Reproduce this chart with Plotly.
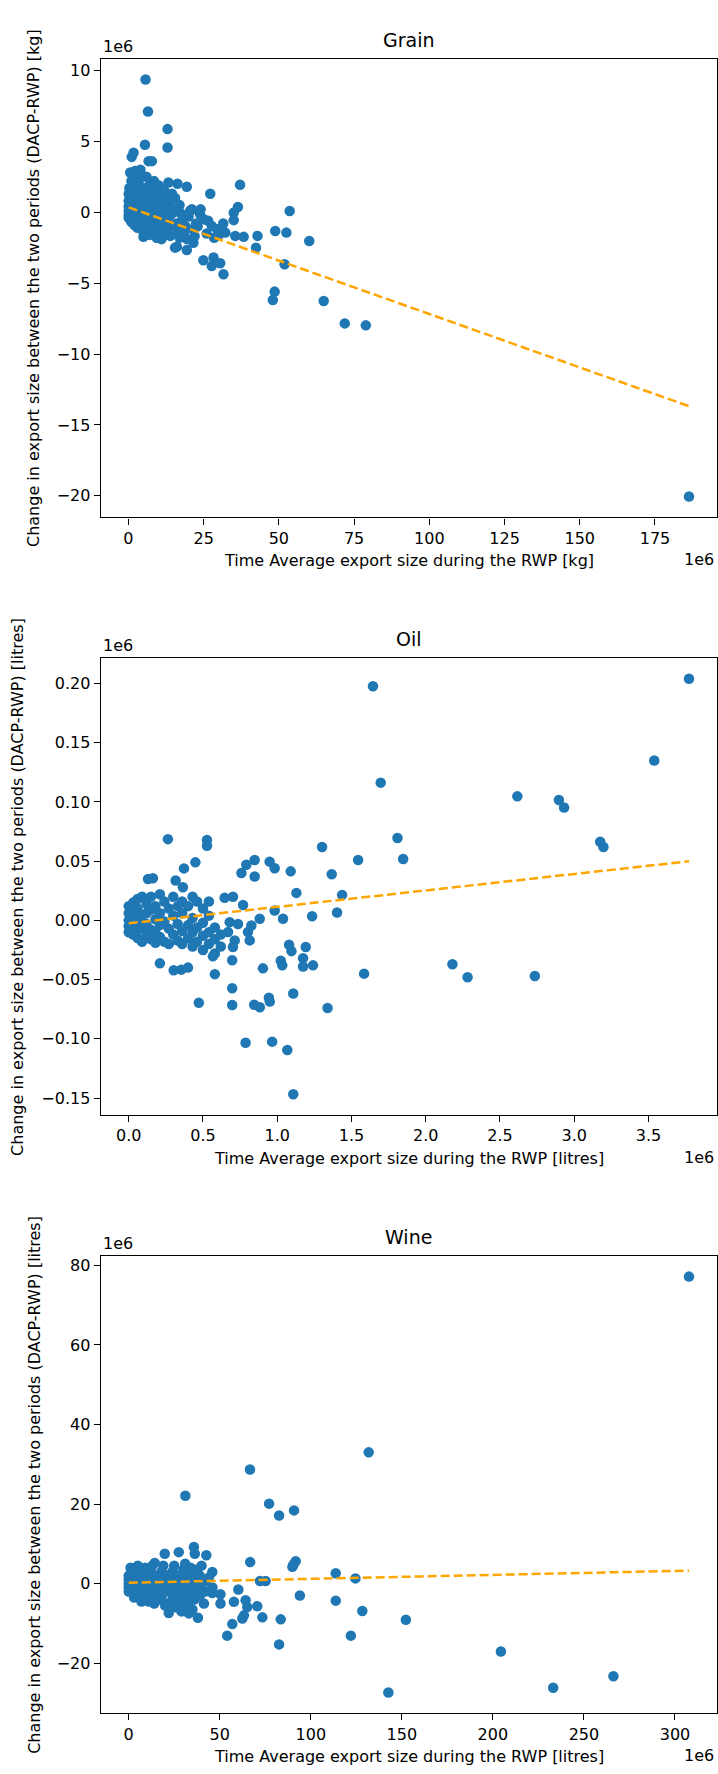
import plotly.graph_objects as go

# ---------------- data (values in units of 1e6) ----------------
grain_pts = [
    (5.7, 9.36), (6.5, 7.1), (13.0, 5.86), (13.0, 4.56), (5.5, 4.75), (1.7, 4.2), (1.1, 3.9),
    (6.7, 3.6), (7.8, 3.6), (0.6, 2.8), (2.2, 2.9), (4.0, 3.0), (13.3, 2.1), (16.3, 2.0),
    (19.4, 1.8), (27.2, 1.3), (37.1, 1.93), (36.4, 0.37), (35.0, -0.03), (35.0, -0.56),
    (53.6, 0.09), (48.8, -1.32), (52.5, -1.44), (60.1, -2.03), (42.9, -1.67), (42.4, -2.5),
    (51.9, -3.67), (48.6, -5.6), (48.0, -6.19), (64.9, -6.26), (71.9, -7.84), (78.9, -7.98),
    (186.3, -20.05),
    (24.9, -3.39), (28.3, -3.2), (27.7, -3.79), (30.5, -3.6), (31.6, -4.38), (16.1, -2.43),
    (19.4, -2.66), (21.6, -2.15), (5.0, -1.74), (10.5, -1.79), (13.9, -1.67), (17.2, -0.03),
    (21.1, 0.21), (23.8, -0.14), (27.7, -0.97), (32.2, -1.44), (35.5, -1.67), (38.3, -1.74),
    (12.2, 0.92), (13.9, 0.32), (26.0, -1.5), (29.5, -1.2), (22.5, -0.8), (25.0, -0.5),
    (19.0, -1.0), (20.5, 0.1), (18.5, -1.5), (15.5, -2.5), (9.4, -1.8), (15.0, 0.0),
    (16.0, -0.8), (17.0, -1.8),
    (15.5, 1.0), (17.0, 0.5), (18.0, -0.5), (20.0, -0.3), (21.5, -1.2), (23.0, -1.0),
    (24.0, 0.2), (26.5, -0.6), (28.5, -1.8), (30.0, -1.6), (31.5, -0.8), (16.5, -1.3),
    (19.5, -1.9), (22.0, -1.7), (2.5, 2.0), (3.5, 2.3), (1.0, 2.2), (0.3, 1.7), (12.0, 1.5),
    (14.5, 1.3), (10.0, 1.9), (8.5, 2.2),
    (0.1, 1.3), (0.1, 0.8), (0.1, 0.4), (0.1, 0.1), (0.1, -0.2), (0.1, -0.4),
    (0.5, 1.0), (0.5, 0.6), (0.5, 0.2), (0.5, -0.1), (0.5, -0.5),
    (1.0, 1.5), (1.0, 0.3), (1.0, -0.3), (1.0, -0.7),
    (1.5, 0.9), (1.5, 0.0), (1.5, -0.6), (1.5, 2.7),
    (2.0, 1.2), (2.0, 0.5), (2.0, -0.2), (2.0, -0.9),
    (3.0, 1.8), (3.0, 0.8), (3.0, 0.2), (3.0, -0.5), (3.0, -1.1),
    (4.0, 2.4), (4.0, 1.3), (4.0, 0.4), (4.0, -0.3), (4.0, -1.0),
    (5.0, 1.7), (5.0, 0.9), (5.0, 0.0), (5.0, -0.7), (5.0, -1.4),
    (6.0, 2.5), (6.0, 1.2), (6.0, 0.3), (6.0, -0.5), (6.0, -1.2),
    (7.0, 1.9), (7.0, 0.7), (7.0, -0.2), (7.0, -1.0), (7.0, -1.6),
    (8.0, 1.3), (8.0, 0.4), (8.0, -0.6), (8.0, -1.3),
    (9.0, 1.6), (9.0, 0.8), (9.0, -0.1), (9.0, -0.9), (9.0, -1.5),
    (10.0, 1.1), (10.0, 0.2), (10.0, -0.5), (10.0, -1.3),
    (11.0, 1.6), (11.0, 0.5), (11.0, -0.3), (11.0, -1.1), (11.0, -1.9),
    (12.0, 0.0), (12.0, -0.8), (12.0, -1.5),
    (13.0, 0.5), (13.0, -0.4), (13.0, -1.2),
    (14.0, 0.8), (14.0, -0.2), (14.0, -1.0),
]

oil_pts = [
    (1.645, 0.1977), (3.773, 0.204), (3.539, 0.135), (2.897, 0.1017), (2.932, 0.0953),
    (3.175, 0.0664), (3.197, 0.0619), (2.617, 0.1047), (1.697, 0.1163), (1.81, 0.0695),
    (1.302, 0.062), (1.545, 0.051), (1.848, 0.0518), (1.367, 0.039), (1.437, 0.0215),
    (1.403, 0.0066), (1.235, 0.0035), (1.192, -0.0225), (1.174, -0.032), (1.174, -0.039),
    (1.241, -0.038), (1.585, -0.045), (2.18, -0.037), (2.282, -0.048), (2.735, -0.047),
    (0.787, -0.1033), (0.966, -0.1024), (1.068, -0.1095), (1.108, -0.1468), (0.472, -0.0695),
    (0.697, -0.0573), (0.697, -0.0714), (0.845, -0.0712), (0.883, -0.0734), (0.944, -0.0654),
    (0.95, -0.0686), (1.108, -0.0618), (1.339, -0.074), (0.904, -0.0405), (0.58, -0.0454),
    (0.697, -0.0337), (1.024, -0.034), (1.034, -0.038), (1.08, -0.0206), (1.096, -0.026),
    (0.21, -0.0363), (0.303, -0.0421), (0.354, -0.0416), (0.399, -0.0399), (0.567, -0.0304),
    (0.264, 0.0686), (0.527, 0.0678), (0.527, 0.063), (0.449, 0.049), (0.372, 0.0439),
    (0.13, 0.035), (0.163, 0.0355), (0.316, 0.0336), (0.365, 0.028), (0.759, 0.040),
    (0.792, 0.047), (0.848, 0.051), (0.848, 0.037), (0.949, 0.0496), (0.983, 0.044),
    (1.091, 0.0414), (1.129, 0.0232), (1.039, 0.0013), (0.882, 0.0013), (0.826, -0.0043),
    (0.803, -0.0099), (0.815, -0.0169), (0.983, 0.0083), (0.646, 0.019), (0.702, 0.020),
    (0.77, 0.013), (0.68, -0.0015), (0.736, -0.003), (0.669, -0.0099), (0.714, -0.0169),
    (0.702, -0.0225),
    (0.0, 0.012), (0.0, 0.006), (0.0, 0.0), (0.0, -0.005), (0.0, -0.01),
    (0.03, 0.015), (0.03, 0.008), (0.03, 0.002), (0.03, -0.004), (0.03, -0.012),
    (0.06, 0.018), (0.06, 0.01), (0.06, -0.002), (0.06, -0.008), (0.06, -0.015),
    (0.09, 0.02), (0.09, 0.004), (0.09, -0.006), (0.09, -0.018),
    (0.12, 0.014), (0.12, 0.006), (0.12, -0.003), (0.12, -0.012),
    (0.15, 0.02), (0.15, 0.009), (0.15, -0.008), (0.15, -0.016),
    (0.18, 0.012), (0.18, 0.001), (0.18, -0.01), (0.18, -0.019),
    (0.21, 0.022), (0.21, 0.006), (0.21, -0.004), (0.21, -0.014),
    (0.24, 0.016), (0.24, -0.001), (0.24, -0.018),
    (0.27, 0.01), (0.27, -0.007), (0.27, -0.02),
    (0.30, 0.02), (0.30, 0.004), (0.30, -0.012),
    (0.33, 0.012), (0.33, -0.003), (0.33, -0.017),
    (0.36, 0.016), (0.36, 0.006), (0.36, -0.009), (0.36, -0.02),
    (0.40, 0.012), (0.40, -0.004), (0.40, -0.015),
    (0.43, 0.02), (0.43, 0.002), (0.43, -0.01), (0.43, -0.022),
    (0.46, 0.016), (0.46, -0.006), (0.46, -0.018),
    (0.50, 0.01), (0.50, -0.002), (0.50, -0.013), (0.50, -0.025),
    (0.54, 0.016), (0.54, 0.004), (0.54, -0.01), (0.54, -0.02),
    (0.58, -0.006), (0.58, -0.016), (0.58, -0.028),
    (0.62, -0.012), (0.62, -0.022),
]

wine_pts = [
    (307.7, 77.2), (131.8, 33.0), (66.6, 28.7), (31.1, 22.1), (77.1, 20.1), (82.6, 17.1),
    (90.8, 18.4), (66.7, 5.4), (89.9, 4.2), (91.7, 5.6), (90.5, 4.8), (94.0, -3.0),
    (113.7, 2.6), (113.7, -4.3), (124.5, 1.3), (128.3, -6.9), (122.0, -13.1), (152.2, -9.1),
    (142.6, -27.4), (204.4, -17.1), (233.1, -26.2), (266.2, -23.3), (72.1, 0.65), (75.2, 0.65),
    (19.8, 7.5), (27.5, 7.9), (35.8, 9.2), (36.3, 7.5), (42.6, 7.1), (14.3, 5.2), (45.9, 2.9),
    (60.2, -1.5), (45.9, -2.4), (50.4, -2.7), (50.4, -5.0), (57.8, -4.6), (64.2, -4.2),
    (65.1, -5.9), (63.3, -8.0), (62.4, -8.8), (70.6, -5.7), (73.4, -8.5), (56.9, -10.2),
    (54.1, -13.1), (83.5, -9.0), (82.6, -15.3), (22.0, -7.4), (38.0, -8.6), (33.0, -7.5),
    (41.3, -5.0),
    (1, 4), (3, -3.5), (5, 4.5), (7, -4.5), (9, 4), (11, -4.5), (13, 4.5), (16, -4),
    (19, 4.5), (22, -5), (25, 4.5), (28, -5), (31, 5), (34, 4), (37, 3.5), (40, 4.5),
    (44, 1.5), (46, -1), (35, -6.5), (26, -6), (20, -5.5), (14, -5), (29, -7), (32, -5),
    (0, 2), (0, 1), (0, 0), (0, -1), (0, -2),
    (2, 3), (2, 0.5), (2, -1.5),
    (4, 3.5), (4, 1.5), (4, -0.5), (4, -2.5),
    (6, 2.5), (6, 0), (6, -3.5),
    (8, 3), (8, 1), (8, -1), (8, -3),
    (10, 2), (10, -0.5), (10, -2.5),
    (12, 3), (12, 0.5), (12, -1.5), (12, -3.5),
    (15, 2), (15, -0.5), (15, -2.5),
    (18, 3), (18, 1), (18, -1), (18, -3.5),
    (21, 2), (21, 0), (21, -2),
    (24, 3), (24, 0.5), (24, -1.5), (24, -4),
    (27, 2), (27, -0.5), (27, -2.5),
    (30, 3.5), (30, 1), (30, -1), (30, -3.5), (30, -5.5),
    (33, 2), (33, -0.5), (33, -3), (33, -6),
    (36, 1), (36, -1.5), (36, -4),
    (39, 2), (39, -0.5), (39, -3),
    (42, 0.5), (42, -2),
]

# linear fit lines: intercept and slope (both in the 1e6-scaled units)
grain_fit = (0.35, -0.0753)
oil_fit = (-0.0025, 0.01389)
wine_fit = (0.2, 0.0099)

titles = ["Grain", "Oil", "Wine"]
x_titles = ["Time Average export size during the RWP [kg]",
            "Time Average export size during the RWP [litres]",
            "Time Average export size during the RWP [litres]"]
y_titles = ["Change in export size between the two periods (DACP-RWP) [kg]",
            "Change in export size between the two periods (DACP-RWP) [litres]",
            "Change in export size between the two periods (DACP-RWP) [litres]"]
x_dticks = [25, 0.5, 50]
y_dticks = [5, 0.05, 20]
x_formats = ["d", ".1f", "d"]
y_formats = ["d", ".2f", "d"]

# ---------------- layout geometry (pixels) ----------------
W, H = 718, 1774
ax_left, ax_right = 100.7, 717.0
ax_tops = [58.6, 658.0, 1255.8]
ax_bottoms = [517.4, 1115.0, 1713.3]
ylab_x = [34.0, 17.4, 34.3]

FONT = "DejaVu Sans"
BLUE = "#1f77b4"
ORANGE = "#FFA500"

fig = go.Figure()
annotations = []


def py(v):
    return 1 - v / H


datasets = [(grain_pts, grain_fit), (oil_pts, oil_fit), (wine_pts, wine_fit)]
for i, (pts, fit) in enumerate(datasets):
    xs = [p[0] for p in pts]
    ys = [p[1] for p in pts]
    xa = "x" if i == 0 else f"x{i+1}"
    ya = "y" if i == 0 else f"y{i+1}"
    fig.add_trace(go.Scatter(
        x=xs, y=ys, mode="markers", xaxis=xa, yaxis=ya,
        marker=dict(color=BLUE, size=10.5, line=dict(width=0)),
        showlegend=False, hoverinfo="skip"))
    x0, x1 = min(xs), max(xs)
    b, m = fit
    fig.add_trace(go.Scatter(
        x=[x0, x1], y=[b + m * x0, b + m * x1], mode="lines", xaxis=xa, yaxis=ya,
        line=dict(color=ORANGE, width=2.5, dash="9px,4px"),
        showlegend=False, hoverinfo="skip"))

    # matplotlib-like 5% margins
    xr = x1 - x0
    yr = max(ys) - min(ys)
    xrange_ = [x0 - 0.05 * xr, x1 + 0.05 * xr]
    yrange_ = [min(ys) - 0.05 * yr, max(ys) + 0.05 * yr]

    axis_common = dict(
        showline=True, linecolor="black", linewidth=1.2, mirror=True,
        showgrid=False, zeroline=False, ticks="outside", ticklen=6, tickwidth=1.2,
        tickcolor="black", tickfont=dict(family=FONT, size=16, color="black"),
        tickmode="linear",
    )
    xk = "xaxis" if i == 0 else f"xaxis{i+1}"
    yk = "yaxis" if i == 0 else f"yaxis{i+1}"
    fig.update_layout({
        xk: dict(axis_common, domain=[ax_left / W, ax_right / W], anchor=ya,
                 range=xrange_, tick0=0, dtick=x_dticks[i], tickformat=x_formats[i]),
        yk: dict(axis_common, domain=[py(ax_bottoms[i]), py(ax_tops[i])], anchor=xa,
                 range=yrange_, tick0=0, dtick=y_dticks[i], tickformat=y_formats[i]),
    })

    cx = (ax_left + ax_right) / 2 / W
    annotations += [
        dict(text=titles[i], x=cx, y=py(ax_tops[i] - 19), xref="paper", yref="paper",
             xanchor="center", yanchor="middle", showarrow=False,
             font=dict(family=FONT, size=19, color="black")),
        dict(text="1e6", x=ax_left / W, y=py(ax_tops[i] - 12.5), xref="paper", yref="paper",
             xanchor="left", yanchor="middle", showarrow=False,
             font=dict(family=FONT, size=16, color="black")),
        dict(text=x_titles[i], x=cx, y=py(ax_bottoms[i] + 43.5), xref="paper", yref="paper",
             xanchor="center", yanchor="middle", showarrow=False,
             font=dict(family=FONT, size=16, color="black")),
        dict(text="1e6", x=716 / W, y=py(ax_bottoms[i] + 42.5), xref="paper", yref="paper",
             xanchor="right", yanchor="middle", showarrow=False,
             font=dict(family=FONT, size=16, color="black")),
        dict(text=y_titles[i], x=ylab_x[i] / W, y=py((ax_tops[i] + ax_bottoms[i]) / 2),
             xref="paper", yref="paper", xanchor="center", yanchor="middle",
             textangle=-90, showarrow=False,
             font=dict(family=FONT, size=16, color="black")),
    ]

fig.update_layout(
    width=W, height=H, margin=dict(l=0, r=0, t=0, b=0),
    paper_bgcolor="white", plot_bgcolor="white",
    annotations=annotations, showlegend=False,
    font=dict(family=FONT, color="black"),
)

fig.write_html("out.html")
